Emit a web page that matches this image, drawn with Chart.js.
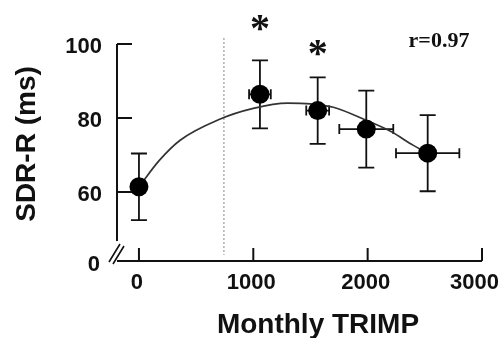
<!DOCTYPE html>
<html>
<head>
<meta charset="utf-8">
<script src="https://cdn.jsdelivr.net/npm/chart.js@4.4.1/dist/chart.umd.min.js"></script>
<style>
  html, body { margin: 0; padding: 0; background: #fff; }
  canvas { display: block; }
</style>
</head>
<body>
<canvas id="trimpChart" width="504" height="338"></canvas>
<script>
// monthly training load vs SDR-R, group means with SD
const trimp = [0, 1058, 1563, 1988, 2525];
const sdr = [61.4, 86.4, 82.0, 77.0, 70.5];
const sdrErr = [9.0, 9.2, 9.0, 10.4, 10.3];
const trimpErr = [0, 95, 100, 236, 277];

// fitted curve, read along its path
const fitX = [0, 180, 360, 700, 1000, 1300, 1500, 1700, 2000, 2200, 2400, 2525];
const fitY = [61.4, 68.6, 74.0, 79.6, 82.6, 84.0, 83.8, 82.9, 79.2, 76.4, 72.6, 70.5];

// threshold marker
const cutoffX = 743;
const cutoffY = [101.6, 43.0];

// significance marks
const starX = [1058, 1563];
const starY = [103.0, 96.1];

const xTicks = [0, 1000, 2000, 3000];
const yTicks = [100, 80, 60];
const yBottomLabel = "0";
const rLabel = "r=0.97";

const INK = "#111";
const sans = "'Liberation Sans', Arial, sans-serif";
const serif = "'Liberation Serif', 'Times New Roman', serif";

const axesPlugin = {
  id: "axesPlugin",
  beforeDatasetsDraw(chart) {
    const ctx = chart.ctx;
    const xs = chart.scales.x;
    const ys = chart.scales.y;
    ctx.save();
    ctx.strokeStyle = INK;
    ctx.lineWidth = 1.8;
    // error bars
    for (let i = 0; i < trimp.length; i++) {
      const px = xs.getPixelForValue(trimp[i]);
      const py = ys.getPixelForValue(sdr[i]);
      const top = ys.getPixelForValue(sdr[i] + sdrErr[i]);
      const bot = ys.getPixelForValue(sdr[i] - sdrErr[i]);
      ctx.beginPath();
      ctx.moveTo(px, top); ctx.lineTo(px, bot);
      ctx.moveTo(px - 8, top); ctx.lineTo(px + 8, top);
      ctx.moveTo(px - 8, bot); ctx.lineTo(px + 8, bot);
      if (trimpErr[i] > 0) {
        const l = xs.getPixelForValue(trimp[i] - trimpErr[i]);
        const r = xs.getPixelForValue(trimp[i] + trimpErr[i]);
        ctx.moveTo(l, py); ctx.lineTo(r, py);
        ctx.moveTo(l, py - 5); ctx.lineTo(l, py + 5);
        ctx.moveTo(r, py - 5); ctx.lineTo(r, py + 5);
      }
      ctx.stroke();
    }
    ctx.restore();
  },
  afterDraw(chart) {
    const ctx = chart.ctx;
    const xs = chart.scales.x;
    const ys = chart.scales.y;
    const area = chart.chartArea;
    ctx.save();
    ctx.strokeStyle = INK;
    ctx.lineWidth = 2;

    // y axis, broken near the bottom
    ctx.beginPath();
    ctx.moveTo(area.left, ys.getPixelForValue(100));
    ctx.lineTo(area.left, area.bottom - 20);
    ctx.stroke();
    // x axis
    ctx.beginPath();
    ctx.moveTo(area.left, area.bottom);
    ctx.lineTo(xs.getPixelForValue(3000), area.bottom);
    ctx.stroke();
    // break marks
    ctx.lineWidth = 1.6;
    ctx.beginPath();
    ctx.moveTo(area.left - 8, area.bottom + 1);
    ctx.lineTo(area.left + 3, area.bottom - 17);
    ctx.moveTo(area.left - 4, area.bottom + 3);
    ctx.lineTo(area.left + 7, area.bottom - 15);
    ctx.stroke();

    // inward ticks
    ctx.lineWidth = 2;
    ctx.beginPath();
    yTicks.forEach((v) => {
      const py = ys.getPixelForValue(v);
      ctx.moveTo(area.left, py);
      ctx.lineTo(area.left + 15, py);
    });
    xTicks.forEach((v) => {
      const px = xs.getPixelForValue(v);
      ctx.moveTo(px, area.bottom);
      ctx.lineTo(px, area.bottom - 13);
    });
    ctx.stroke();

    // tick labels
    ctx.fillStyle = INK;
    ctx.font = `bold 22px ${sans}`;
    ctx.textAlign = "right";
    ctx.textBaseline = "middle";
    yTicks.forEach((v) => {
      ctx.fillText(String(v), area.left - 15, ys.getPixelForValue(v) + 3);
    });
    ctx.fillText(yBottomLabel, area.left - 17, area.bottom + 4);
    ctx.textAlign = "center";
    xTicks.forEach((v) => {
      // keep the last label inside the canvas
      const w = ctx.measureText(String(v)).width;
      const px = Math.min(xs.getPixelForValue(v) - 2, chart.width - 5 - w / 2);
      ctx.fillText(String(v), px, area.bottom + 22);
    });

    // axis titles
    ctx.font = `bold 28px ${sans}`;
    ctx.fillText("Monthly TRIMP", 318, 325);
    ctx.save();
    ctx.translate(27, 144);
    ctx.rotate(-Math.PI / 2);
    ctx.fillText("SDR-R (ms)", 0, 0);
    ctx.restore();

    // correlation
    ctx.font = `bold 22px ${serif}`;
    ctx.fillText(rLabel, 439, 41);

    // asterisks
    ctx.font = `bold 40px ${serif}`;
    const m = ctx.measureText("*");
    const shift = (m.actualBoundingBoxAscent - m.actualBoundingBoxDescent) / 2;
    ctx.textBaseline = "alphabetic";
    for (let i = 0; i < starX.length; i++) {
      ctx.fillText("*", xs.getPixelForValue(starX[i]), ys.getPixelForValue(starY[i]) + shift);
    }
    ctx.restore();
  },
};

new Chart(document.getElementById("trimpChart"), {
  type: "scatter",
  data: {
    datasets: [
      {
        label: "means",
        data: trimp.map((x, i) => ({ x: x, y: sdr[i] })),
        pointRadius: 9.5,
        pointHoverRadius: 9.5,
        pointBackgroundColor: "#000",
        pointBorderColor: "#000",
        pointBorderWidth: 0,
        showLine: false,
        clip: false,
      },
      {
        label: "fit",
        data: fitX.map((x, i) => ({ x: x, y: fitY[i] })),
        showLine: true,
        pointRadius: 0,
        borderColor: "#333",
        borderWidth: 1.7,
        cubicInterpolationMode: "monotone",
        clip: false,
      },
      {
        label: "cutoff",
        data: cutoffY.map((y) => ({ x: cutoffX, y: y })),
        showLine: true,
        pointRadius: 0,
        borderColor: "#9a9a9a",
        borderWidth: 1.2,
        borderDash: [2, 2],
        clip: false,
      },
    ],
  },
  options: {
    responsive: false,
    devicePixelRatio: 1,
    animation: false,
    layout: {
      padding: { left: 117, right: 22, top: 44, bottom: 77 },
    },
    plugins: {
      legend: { display: false },
      tooltip: { enabled: false },
    },
    scales: {
      x: { type: "linear", min: -192, max: 3000, display: false },
      y: { type: "linear", min: 41.35, max: 100, display: false },
    },
  },
  plugins: [axesPlugin],
});
</script>
</body>
</html>
